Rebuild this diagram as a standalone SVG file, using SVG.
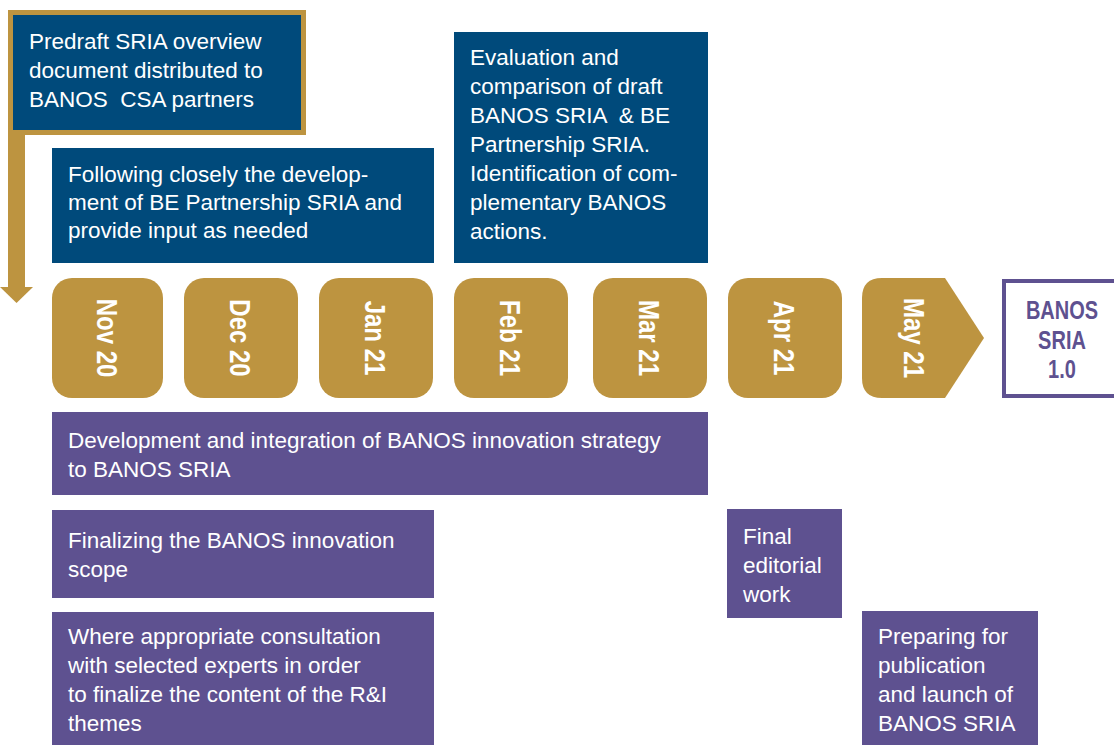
<svg xmlns="http://www.w3.org/2000/svg" width="1114" height="745" viewBox="0 0 1114 745">
<style>
.blue{fill:#004a7b}
.gold{fill:#bd9440}
.purple{fill:#5e5190}
.t{font-family:"Liberation Sans",Arial,sans-serif;font-size:22.5px;fill:#ffffff;white-space:pre}
.m{font-family:"Liberation Sans",Arial,sans-serif;font-size:30px;font-weight:bold;fill:#ffffff;text-anchor:middle}
.b{font-family:"Liberation Sans",Arial,sans-serif;font-size:25px;font-weight:bold;fill:#5e5190;text-anchor:middle}
</style>
<rect width="1114" height="745" fill="#ffffff"/>
<g id="connectors">
<rect class="gold" x="8" y="130" width="17" height="158"/>
<polygon class="gold" points="0,287 33,287 16.5,303"/>
</g>
<g id="predraft">
<rect class="gold" x="8" y="10" width="298" height="125"/>
<rect class="blue" x="13" y="15" width="288" height="115"/>
<text class="t" x="29" y="49">Predraft SRIA overview</text>
<text class="t" x="29" y="78">document distributed to</text>
<text class="t" x="29" y="107" xml:space="preserve">BANOS  CSA partners</text>
</g>
<g id="following">
<rect class="blue" x="52" y="148" width="382" height="115"/>
<text class="t" x="68" y="182">Following closely the develop-</text>
<text class="t" x="68" y="210">ment of BE Partnership SRIA and</text>
<text class="t" x="68" y="238">provide input as needed</text>
</g>
<g id="evaluation">
<rect class="blue" x="454" y="32" width="254" height="231"/>
<text class="t" x="470" y="65">Evaluation and</text>
<text class="t" x="470" y="94">comparison of draft</text>
<text class="t" x="470" y="123" xml:space="preserve">BANOS SRIA  &amp; BE</text>
<text class="t" x="470" y="152">Partnership SRIA.</text>
<text class="t" x="470" y="181">Identification of com-</text>
<text class="t" x="470" y="210">plementary BANOS</text>
<text class="t" x="470" y="239">actions.</text>
</g>
<g id="nov20">
<rect class="gold" x="52" y="278" width="111" height="120" rx="20"/>
<text class="m" transform="translate(97,338) rotate(90) scale(0.8,1)">Nov 20</text>
</g>
<g id="dec20">
<rect class="gold" x="184" y="278" width="114" height="120" rx="20"/>
<text class="m" transform="translate(230,338) rotate(90) scale(0.8,1)">Dec 20</text>
</g>
<g id="jan21">
<rect class="gold" x="319" y="278" width="114" height="120" rx="20"/>
<text class="m" transform="translate(365,338) rotate(90) scale(0.8,1)">Jan 21</text>
</g>
<g id="feb21">
<rect class="gold" x="454" y="278" width="114" height="120" rx="20"/>
<text class="m" transform="translate(500,338) rotate(90) scale(0.8,1)">Feb 21</text>
</g>
<g id="mar21">
<rect class="gold" x="593" y="278" width="114" height="120" rx="20"/>
<text class="m" transform="translate(639,338) rotate(90) scale(0.8,1)">Mar 21</text>
</g>
<g id="apr21">
<rect class="gold" x="728" y="278" width="114" height="120" rx="20"/>
<text class="m" transform="translate(774,338) rotate(90) scale(0.8,1)">Apr 21</text>
</g>
<g id="may21">
<path class="gold" d="M882,278 L945,278 L984,338 L945,398 L882,398 Q862,398 862,378 L862,298 Q862,278 882,278 Z"/>
<text class="m" transform="translate(904,338) rotate(90) scale(0.8,1)">May 21</text>
</g>
<g id="banos-sria">
<rect x="1004" y="281" width="120" height="115" fill="#ffffff" stroke="#5e5190" stroke-width="4"/>
<text class="b" transform="translate(1062,319) scale(0.8,1)">BANOS</text>
<text class="b" transform="translate(1062,349) scale(0.8,1)">SRIA</text>
<text class="b" transform="translate(1062,378) scale(0.8,1)">1.0</text>
</g>
<g id="development">
<rect class="purple" x="52" y="412" width="656" height="83"/>
<text class="t" x="68" y="448">Development and integration of BANOS innovation strategy</text>
<text class="t" x="68" y="477">to BANOS SRIA</text>
</g>
<g id="finalizing">
<rect class="purple" x="52" y="510" width="382" height="88"/>
<text class="t" x="68" y="548">Finalizing the BANOS innovation</text>
<text class="t" x="68" y="577">scope</text>
</g>
<g id="consultation">
<rect class="purple" x="52" y="612" width="382" height="133"/>
<text class="t" x="68" y="644">Where appropriate consultation</text>
<text class="t" x="68" y="673">with selected experts in order</text>
<text class="t" x="68" y="702">to finalize the content of the R&amp;I</text>
<text class="t" x="68" y="731">themes</text>
</g>
<g id="editorial">
<rect class="purple" x="727" y="509" width="115" height="109"/>
<text class="t" x="743" y="544">Final</text>
<text class="t" x="743" y="573">editorial</text>
<text class="t" x="743" y="602">work</text>
</g>
<g id="publication">
<rect class="purple" x="862" y="611" width="176" height="134"/>
<text class="t" x="878" y="644">Preparing for</text>
<text class="t" x="878" y="673">publication</text>
<text class="t" x="878" y="702">and launch of</text>
<text class="t" x="878" y="731">BANOS SRIA</text>
</g>
</svg>
